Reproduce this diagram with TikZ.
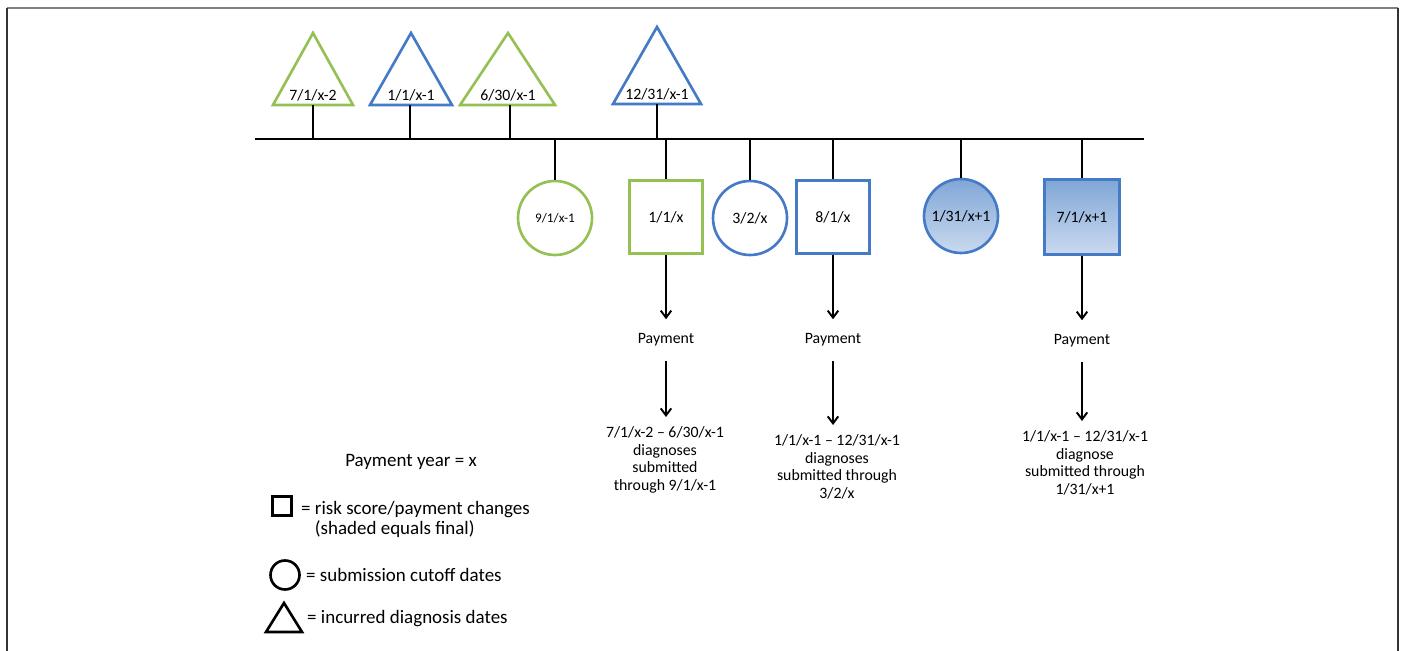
\documentclass[tikz,border=0pt]{standalone}
\usepackage{fontspec}
\setmainfont{Carlito}
\usepackage{xcolor}
\usepackage{tikz}
\usetikzlibrary{arrows.meta, positioning, calc}

\definecolor{dategreen}{RGB}{148,192,84}
\definecolor{dateblue}{RGB}{68,122,198}
\definecolor{shadetop}{RGB}{128,166,214}
\definecolor{shadebot}{RGB}{202,218,239}

\begin{document}
\begin{tikzpicture}[
    x=0.02cm, y=-0.02cm,
    every node/.style={font=\fontsize{9}{10.2}\selectfont},
    cutoff/.style={circle, draw, line width=1.5pt, minimum size=1.48cm, inner sep=0pt},
    change/.style={rectangle, draw, line width=1.5pt, minimum size=1.46cm, inner sep=0pt},
    final/.style={top color=shadetop, bottom color=shadebot},
    incurred/.style={line width=1.5pt, line join=miter},
    stem/.style={line width=1.1pt},
    flow/.style={line width=1.1pt, -{Straight Barb[length=4pt,width=6pt]}},
    pay/.style={inner sep=8pt},
    result/.style={align=center, anchor=north, inner sep=5pt},
    legend/.style={font=\fontsize{10.8}{11.2}\selectfont},
    ]

    % Frame
    \useasboundingbox (0,0) rectangle (1405,651);
    \draw[line width=1.2pt, black!50] (7,8) -- (1398,8);
    \draw[line width=1.2pt, black!80] (7,8) -- (7,651);
    \draw[line width=1.2pt, black!80] (1398,8) -- (1398,651);

    % Time line
    \coordinate (axis-l) at (255,139);
    \coordinate (axis-r) at (1144,139);
    \draw[stem] (axis-l) -- (axis-r);

    % Incurred diagnosis dates (above the line)
    \draw[incurred, dategreen] (273,105) -- (313,33) -- (353,105) -- cycle;
    \node (d1) at (313,95) {7/1/x-2};
    \coordinate (d1-foot) at (313,105);

    \draw[incurred, dateblue] (370,105) -- (411,33) -- (452,105) -- cycle;
    \node (d2) at (411,95) {1/1/x-1};
    \coordinate (d2-foot) at (410,105);

    \draw[incurred, dategreen] (460,105) -- (508,33) -- (555,105) -- cycle;
    \node (d3) at (508,95) {6/30/x-1};
    \coordinate (d3-foot) at (510,105);

    \draw[incurred, dateblue] (613,104) -- (657,27) -- (701,104) -- cycle;
    \node (d4) at (657,94) {12/31/x-1};
    \coordinate (d4-foot) at (657,104);

    \foreach \d in {d1,d2,d3,d4} {
        \draw[stem] (\d-foot) -- (\d-foot |- axis-l);
    }

    % Cutoff dates and payment changes (below the line)
    \node[cutoff, draw=dategreen] (c1) at (555,218) {\fontsize{7.5}{9}\selectfont 9/1/x-1};
    \node[change, draw=dategreen] (s1) at (666,217) {1/1/x};
    \node[cutoff, draw=dateblue] (c2) at (750,218) {3/2/x};
    \node[change, draw=dateblue] (s2) at (833,217) {8/1/x};
    \node[cutoff, draw=dateblue, final] (c3) at (961,216) {1/31/x+1};
    \node[change, draw=dateblue, final, minimum size=1.5cm] (s3) at (1082,217) {7/1/x+1};

    \foreach \n in {c1,s1,c2,s2,c3,s3} {
        \draw[stem] (\n.north) -- (\n.north |- axis-l);
    }

    % Payments
    \node[pay] (p1) at (666,340) {Payment};
    \node[pay] (p2) at (833,340) {Payment};
    \node[pay] (p3) at (1082,341) {Payment};

    \node[result] (r1) at (665,417) {7/1/x-2 -- 6/30/x-1\\diagnoses\\submitted\\through 9/1/x-1};
    \node[result] (r2) at (837,425) {1/1/x-1 -- 12/31/x-1\\diagnoses\\submitted through\\3/2/x};
    \node[result] (r3) at (1085,421) {1/1/x-1 -- 12/31/x-1\\diagnose\\submitted through\\1/31/x+1};

    \draw[flow] (s1.south) -- (p1.north);
    \draw[flow] (s2.south) -- (p2.north);
    \draw[flow] (s3.south) -- (p3.north);
    \draw[flow] (p1.south) -- (p1.south |- r1.north);
    \draw[flow] (p2.south) -- (p2.south |- r2.north);
    \draw[flow] (p3.south) -- (p3.south |- r3.north);

    % Legend
    \node[legend] (year) at (411,462) {Payment year = x};
    \node[rectangle, draw, line width=1.5pt, minimum size=0.38cm, inner sep=0pt] (key-s) at (282,506) {};
    \node[legend, align=left, anchor=north west] (key-s-txt) at (295,495) {= risk score/payment changes\\\hphantom{=}\ (shaded equals final)};
    \node[circle, draw, line width=1.5pt, minimum size=0.58cm, inner sep=0pt] (key-c) at (285,575) {};
    \node[legend, anchor=west] (key-c-txt) at (300,575) {= submission cutoff dates};
    \draw[line width=1.5pt, line join=miter] (266,632) -- (284,603) -- (302,632) -- cycle;
    \coordinate (key-t) at (301,619);
    \node[legend, anchor=west] (key-t-txt) at (key-t) {= incurred diagnosis dates};

\end{tikzpicture}
\end{document}
